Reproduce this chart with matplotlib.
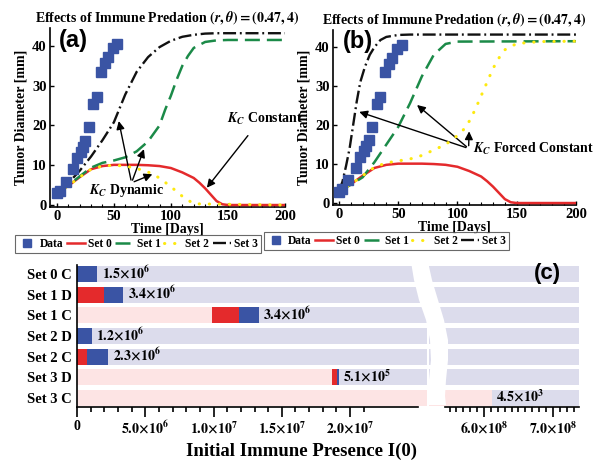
import numpy as np
import matplotlib
matplotlib.use('Agg')
import matplotlib.pyplot as plt
from matplotlib.patches import Polygon

plt.rcParams['font.family'] = 'Liberation Serif'
plt.rcParams['font.weight'] = 'bold'
plt.rcParams['axes.titleweight'] = 'bold'
plt.rcParams['axes.labelweight'] = 'bold'
plt.rcParams['mathtext.fontset'] = 'stix'
plt.rcParams['axes.linewidth'] = 1.2

# ---- tumour data (squares), same in (a) and (b) ----
t_data = [0, 3, 8, 14, 18, 21, 23, 25, 28, 32, 35, 39, 42, 45, 49, 53]
d_data = [2.9, 3.6, 5.9, 9.0, 11.9, 13.4, 14.7, 16.1, 19.5, 25.3, 27.2, 33.5, 35.6, 37.3, 39.4, 40.5]

# ---- Set 0 (same in both panels) ----
t_s0 = [0, 10, 20, 30, 40, 50, 60, 70, 80, 90, 100, 110, 120, 125, 130, 135, 140, 145, 150, 200]
d_s0 = [3, 4.8, 7.0, 9.0, 9.8, 10.1, 10.1, 10.1, 10.0, 9.8, 9.3, 8.2, 6.8, 5.6, 4.2, 2.6, 1.0, 0.2, 0, 0]

# ---- panel (a): K_C dynamic ----
t_a1 = [0, 10, 20, 30, 40, 50, 60, 70, 80, 90, 95, 100, 105, 110, 115, 120, 130, 140, 150, 200]
d_a1 = [3, 4.9, 7.2, 9.4, 10.6, 11.2, 12.0, 13.5, 16, 20, 24, 27.5, 31.5, 35, 37.5, 39.5, 41, 41.4, 41.5, 41.5]
t_a2 = [0, 10, 20, 30, 40, 50, 60, 70, 80, 90, 100, 110, 120, 200]
d_a2 = [3, 4.8, 7.0, 9.0, 9.8, 10.0, 9.8, 9.2, 8.3, 6.8, 4.6, 2.2, 0.3, 0]
t_a3 = [0, 10, 20, 30, 40, 50, 60, 70, 80, 90, 100, 110, 120, 130, 140, 200]
d_a3 = [3, 5.5, 8.6, 12.2, 16.3, 20.8, 27.8, 33.5, 37.2, 39.7, 41.3, 42.3, 42.8, 43.1, 43.2, 43.2]

# ---- panel (b): K_C forced constant ----
t_b1 = [0, 10, 20, 30, 40, 50, 60, 70, 80, 90, 100, 200]
d_b1 = [3, 4.7, 6.6, 10.5, 15, 19.5, 25.6, 32.5, 38, 40.8, 41.4, 41.5]
t_b2 = [0, 10, 20, 30, 40, 50, 60, 70, 80, 90, 100, 105, 110, 115, 120, 125, 130, 135, 140, 150, 170, 200]
d_b2 = [3, 4.8, 7, 9.2, 10.3, 10.8, 11.3, 12.2, 13.6, 15, 17.3, 18.8, 21, 24, 27.5, 31, 34.5, 37.2, 39.3, 40.9, 41.4, 41.5]
t_b3 = [0, 3, 6, 9, 12, 15, 18, 22, 26, 30, 35, 40, 50, 60, 200]
d_b3 = [3, 5.5, 9.5, 14, 20, 26, 31, 35, 38, 40, 41.8, 42.6, 43.1, 43.2, 43.2]

# ---- panel (c) ----
rows = ['Set 0 C', 'Set 1 D', 'Set 1 C', 'Set 2 D', 'Set 2 C', 'Set 3 D', 'Set 3 C']
pink_end = [0, 0, 9.9e6, 0, 0, 1.87e7, 6.11e8]
red_len = [0, 2.0e6, 2.0e6, 0, 0.72e6, 0.35e6, 0]
blue_len = [1.5e6, 1.4e6, 1.4e6, 1.1e6, 1.58e6, 0.15e6, 0]
bar_txt = [r'1.5{\times}10^{6}', r'3.4{\times}10^{6}', r'3.4{\times}10^{6}', r'1.2{\times}10^{6}',
           r'2.3{\times}10^{6}', r'5.1{\times}10^{5}', r'4.5{\times}10^{3}']

BLUE = '#3a54a4'
RED = '#e42a2c'
GREEN = '#1b8a48'
YELLOW = '#fde910'
BLACK = '#111111'
LAV = '#dcdcec'
PINK = '#fde4e4'

fig = plt.figure(figsize=(6, 4.72), dpi=100)

def growth_panel(rect, s1, s2, s3, xl):
    ax = fig.add_axes(rect)
    ax.plot(t_s0, d_s0, color=RED, lw=1.8, zorder=3)
    ax.plot(s1[0], s1[1], color=GREEN, lw=1.8, dashes=(6, 2.8), zorder=3)
    ax.plot(s2[0], s2[1], color=YELLOW, lw=2.2, dashes=(0.1, 3.2), dash_capstyle='round', zorder=4)
    ax.plot(s3[0], s3[1], color=BLACK, lw=1.7, dashes=(5.5, 1.6, 0.8, 1.6), zorder=3)
    ax.plot(t_data, d_data, 's', color=BLUE, ms=6.8, zorder=5)
    ax.set_xlim(xl, 200)
    ax.set_ylim(-0.5, 44.5)
    ax.set_xticks([0, 50, 100, 150, 200])
    ax.set_xticks(np.arange(0, 201, 10), minor=True)
    ax.set_yticks([0, 10, 20, 30, 40])
    ax.tick_params(direction='in', labelsize=10.5, length=3, width=1, pad=2.5)
    ax.tick_params(which='minor', direction='in', length=2, width=0.8)
    for s in ['top', 'right']:
        ax.spines[s].set_visible(False)
    ax.set_xlabel('Time [Days]', fontsize=10, labelpad=0)
    ax.set_ylabel('Tumor Diameter [mm]', fontsize=10, labelpad=3)
    ax.set_title(r'Effects of Immune Predation $(r, \theta) = (\mathbf{0.47, 4})$', fontsize=10, pad=4)
    return ax

ax_a = growth_panel([0.0833, 0.5614, 0.3917, 0.3792], (t_a1, d_a1), (t_a2, d_a2), (t_a3, d_a3), -6)
ax_b = growth_panel([0.555, 0.5657, 0.405, 0.3718], (t_b1, d_b1), (t_b2, d_b2), (t_b3, d_b3), -5)

fig.text(0.098, 0.915, '(a)', family='Liberation Sans', fontsize=17, fontweight='bold', va='center')
fig.text(0.572, 0.913, '(b)', family='Liberation Sans', fontsize=17, fontweight='bold', va='center')

# annotations
kw = dict(arrowstyle='-|>', color='black', lw=1.0, mutation_scale=12)
for tip in [(53.8, 21.8), (77.2, 14.7), (86, 8)]:
    ax_a.annotate('', xy=tip, xytext=(65.5, 5.6), arrowprops=kw)
ax_a.text(28, 2.8, r'$K_C$ Dynamic', fontsize=10)
ax_a.annotate('', xy=(130, 3.8), xytext=(169, 18), arrowprops=kw)
ax_a.text(149, 20.6, r'$K_C$ Constant', fontsize=10)
for tip in [(14.9, 23.6), (64.1, 25.6), (109.9, 19.1)]:
    ax_b.annotate('', xy=tip, xytext=(109.4, 14.0), arrowprops=kw)
ax_b.text(113, 12.8, r'$K_C$ Forced Constant', fontsize=10)

# legends
for ax, anchor in [(ax_a, (0.23, 0.483)), (ax_b, (0.644, 0.489))]:
    h = ax.get_lines()
    handles = [h[4], h[0], h[1], h[2], h[3]]
    leg = ax.legend(handles, ['Data', 'Set 0', 'Set 1', 'Set 2', 'Set 3'], ncol=5,
                    loc='center', bbox_to_anchor=anchor, bbox_transform=fig.transFigure,
                    fontsize=8.3, frameon=True, fancybox=False, edgecolor='#444444',
                    handlelength=1.6, handletextpad=0.25, columnspacing=0.3,
                    markerscale=0.85, borderpad=0.25, borderaxespad=0)
    leg.get_frame().set_linewidth(0.8)

# ---- panel (c): broken axis ----
axl = fig.add_axes([0.1283, 0.1377, 0.5683, 0.3008])
axr = fig.add_axes([0.7417, 0.1377, 0.2233, 0.3008])
ranges = [(axl, 0, 2.56e7, 2.378e7), (axr, 5.2e8, 7.377e8, 5.435e8)]
bh = 0.77
for ax, lo, hi, xmin in ranges:
    for i in range(len(rows)):
        p = min(max(pink_end[i], lo), hi)
        if p > lo:
            ax.barh(i, p - lo, left=lo, height=bh, color=PINK, clip_on=False, zorder=1)
        if p < hi:
            ax.barh(i, hi - p, left=p, height=bh, color=LAV, clip_on=False, zorder=1)
        if lo <= pink_end[i] < hi:
            x0 = pink_end[i]
            if red_len[i] > 0:
                ax.barh(i, red_len[i], left=x0, height=bh, color=RED, zorder=2)
            if blue_len[i] > 0:
                ax.barh(i, blue_len[i], left=x0 + red_len[i], height=bh, color=BLUE, zorder=2)
            ax.annotate('$\\mathbf{' + bar_txt[i] + '}$', xy=(x0 + red_len[i] + blue_len[i], i),
                        xytext=(3, 1), textcoords='offset points', va='center', ha='left',
                        fontsize=10, zorder=3)
    ax.set_ylim(6.43, -0.43)
    ax.set_xlim(xmin, hi if ax is axr else 2.378e7)
    for s in ['top', 'right']:
        ax.spines[s].set_visible(False)
    ax.tick_params(axis='x', direction='out', length=7, width=1.2, labelsize=10, pad=2)
    ax.tick_params(axis='x', which='minor', direction='out', length=3.5, width=1.2)

axl.set_yticks(range(len(rows)))
axl.set_yticklabels(rows, fontsize=10.5)
axl.tick_params(axis='y', length=0, pad=4)
axl.set_xticks([0, 5e6, 1e7, 1.5e7, 2e7])
axl.set_xticklabels(['0', r'$\mathbf{5.0{\times}10^{6}}$', r'$\mathbf{1.0{\times}10^{7}}$',
                     r'$\mathbf{1.5{\times}10^{7}}$', r'$\mathbf{2.0{\times}10^{7}}$'])
axl.set_xticks(np.arange(0, 2.15e7, 1e6), minor=True)
axr.spines['left'].set_visible(False)
axr.set_yticks([])
axr.set_xticks([6e8, 7e8])
axr.set_xticklabels([r'$\mathbf{6.0{\times}10^{8}}$', r'$\mathbf{7.0{\times}10^{8}}$'])
axr.set_xticks(np.arange(5.5e8, 7.35e8, 1e7), minor=True)

# white S-shaped break between the two halves (figure pixels, y from top)
left_edge = [(411, 262), (414, 280), (419, 300), (426, 320), (430, 340), (431, 360), (429, 380), (427, 396), (428, 405)]
right_edge = [(428, 262), (432, 280), (438, 300), (444, 320), (448, 340), (448, 360), (446, 380), (445, 396), (446, 405)]
pts = [(x / 600, 1 - y / 472) for x, y in left_edge + right_edge[::-1]]
fig.patches.append(Polygon(pts, closed=True, facecolor='white', edgecolor='none',
                           transform=fig.transFigure, zorder=5))

fig.text(0.503, 1 - 451 / 472, 'Initial Immune Presence I(0)', fontsize=13.5, ha='center', va='center')
fig.text(0.912, 1 - 273 / 472, '(c)', family='Liberation Sans', fontsize=16, fontweight='bold',
         ha='center', va='center')

fig.savefig('out.png', dpi=100)
